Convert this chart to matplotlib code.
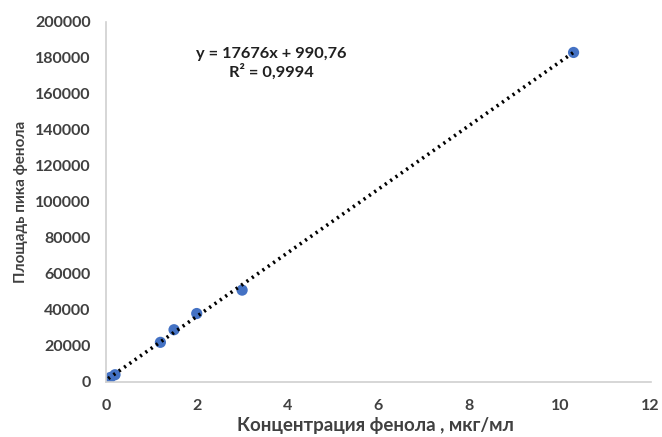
import numpy as np
import matplotlib.pyplot as plt

plt.rcParams['font.family'] = ['Lato', 'DejaVu Sans']

# calibration data
conc = [0.05, 0.1, 0.2, 1.2, 1.5, 2.0, 3.0, 10.3]
area = [1000, 2500, 4000, 22000, 29000, 38000, 51000, 183000]
slope = 17676
intercept = 990.76
r2_text = "R² = 0,9994"
eq_text = "y = 17676x + 990,76"

x_ticks = [0, 2, 4, 6, 8, 10, 12]
y_ticks = [0, 20000, 40000, 60000, 80000, 100000, 120000, 140000, 160000, 180000, 200000]

fig = plt.figure(figsize=(6.62, 4.37), dpi=100)
ax = fig.add_axes([0.160, 0.126, 0.823, 0.824])

ax.scatter(conc, area, s=65, color='#4472C4', zorder=2, edgecolors='none')

# linear trend line
xf = np.array([min(conc), max(conc)])
ax.plot(xf, slope * xf + intercept, color='black', linestyle=(0, (0.6, 1.2)),
        linewidth=2.6, zorder=3)

ax.set_xlim(0, 12)
ax.set_ylim(0, 200000)
ax.set_xticks(x_ticks)
ax.set_yticks(y_ticks)
ax.tick_params(axis='y', length=0, labelsize=11.5, colors='#404040', pad=11)
ax.tick_params(axis='x', length=0, labelsize=11.5, colors='#404040', pad=12)
for lab in ax.get_xticklabels() + ax.get_yticklabels():
    lab.set_fontweight('bold')

for s in ['top', 'right']:
    ax.spines[s].set_visible(False)
for s in ['left', 'bottom']:
    ax.spines[s].set_color('#d0d0d0')
    ax.spines[s].set_linewidth(1.2)

ax.set_xlabel('Концентрация фенола , мкг/мл', fontsize=13.5, fontweight='bold',
              color='#404040')
ax.set_ylabel('Площадь пика фенола', fontsize=11, fontweight='bold',
              color='#404040')
ax.xaxis.set_label_coords(0.495, -0.097)
ax.yaxis.set_label_coords(-0.143, 0.5)

ax.text(3.65, 182000, eq_text, ha='center', va='center', fontsize=11.8,
        fontweight='bold', color='#202020')
ax.text(3.65, 172500, r2_text, ha='center', va='center', fontsize=11.8,
        fontweight='bold', color='#202020')

fig.savefig('out.png', dpi=100)
